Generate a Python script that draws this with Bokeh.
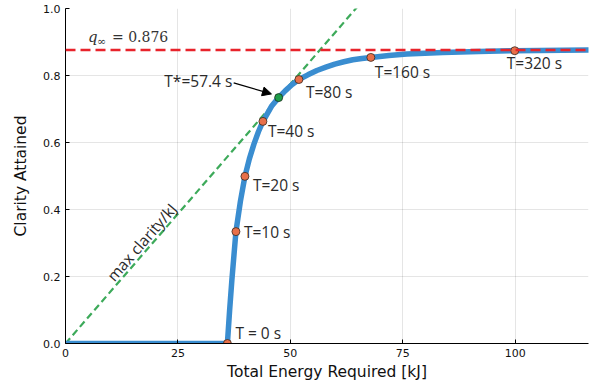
from bokeh.plotting import figure
from bokeh.models import ColumnDataSource, Range1d, FixedTicker, Arrow, NormalHead, Span, CustomJSTickFormatter
from bokeh.core.properties import value
from bokeh.embed import file_html
from bokeh.resources import INLINE

# ---- data ----
curve_energy = [0.0, 36.0, 36.5, 37.0, 37.9, 38.9, 39.9, 40.9, 41.9, 42.9, 43.9, 45.9, 47.4,
                48.9, 50.4, 51.9, 53.9, 55.9, 57.9, 59.9, 61.9, 63.9, 65.9, 67.9, 71.9,
                75.9, 83.9, 91.9, 99.9, 116.0, 120.0]
curve_clarity = [0.0, 0.0, 0.10, 0.19, 0.334, 0.425, 0.499, 0.552, 0.595, 0.632, 0.663, 0.710,
                 0.734, 0.755, 0.773, 0.788, 0.802, 0.815, 0.825, 0.834, 0.841, 0.847, 0.851,
                 0.854, 0.860, 0.864, 0.869, 0.872, 0.874, 0.876, 0.876]

marker_energy = [36.0, 37.9, 39.9, 43.9, 51.9, 67.9, 99.9]
marker_clarity = [0.0, 0.334, 0.499, 0.663, 0.788, 0.854, 0.874]
marker_labels = ["T = 0 s", "T=10 s", "T=20 s", "T=40 s", "T=80 s", "T=160 s", "T=320 s"]

star_energy = 47.4
star_clarity = 0.734
star_label = "T*=57.4 s"

q_inf = 0.876
q_label_value = "= 0.876"
tangent_slope = star_clarity / star_energy
tangent_x = [0.0, 70.0]

x_ticks = [0, 25, 50, 75, 100]
y_ticks = [0.0, 0.2, 0.4, 0.6, 0.8, 1.0]

# ---- styling (label offsets in screen px) ----
label_dx = [8, 8, 8, 5, 7, 4, -8]
label_dy = [-11, 0, 9, 10, 12, 15, 12]

BLUE = "#3A8DD0"
RED = "#E8232B"
GREEN = "#3DAA5A"
ORANGE = "#E8704A"
LABEL_FONT = "Open Sans"
LABEL_SIZE = "15.5px"

p = figure(width=595, height=389, output_backend="svg", toolbar_location=None,
           x_range=Range1d(0, 116.3), y_range=Range1d(0, 1.0),
           min_border_left=65, min_border_right=7, min_border_top=8, min_border_bottom=46)
p.outline_line_color = None
p.background_fill_color = "white"
p.border_fill_color = "white"

for ax in (p.xaxis[0], p.yaxis[0]):
    ax.major_tick_in = 4
    ax.major_tick_out = 0
    ax.minor_tick_line_color = None
    ax.major_label_text_font = "DejaVu Sans"
    ax.major_label_text_font_size = "11px"
    ax.major_label_text_color = "#111111"
    ax.axis_label_text_font = "DejaVu Sans"
    ax.axis_label_text_font_size = "15.5px"
    ax.axis_label_text_font_style = "normal"
    ax.axis_label_text_color = "#111111"
    ax.axis_line_color = "black"
    ax.major_tick_line_color = "black"

p.xaxis.ticker = FixedTicker(ticks=x_ticks)
p.yaxis.ticker = FixedTicker(ticks=y_ticks)
p.yaxis.formatter = CustomJSTickFormatter(code="return tick.toFixed(1);")
p.xaxis.axis_label = "Total Energy Required [kJ]"
p.yaxis.axis_label = "Clarity Attained"
p.xaxis.axis_label_standoff = 3
p.yaxis.axis_label_standoff = 10

p.xgrid.ticker = FixedTicker(ticks=x_ticks)
p.ygrid.ticker = FixedTicker(ticks=y_ticks)
p.grid.grid_line_color = "black"
p.grid.grid_line_alpha = 0.1

# tangent line
p.line(tangent_x, [tangent_slope * x for x in tangent_x], line_color=GREEN,
       line_width=2.2, line_dash="7 4")

# main curve
p.line(curve_energy, curve_clarity, line_color=BLUE, line_width=5.5, line_join="round")

# asymptote
p.add_layout(Span(location=q_inf, dimension="width", line_color=RED,
                  line_width=2.5, line_dash="10 5"))

# markers
p.scatter(marker_energy, marker_clarity, size=8, fill_color=ORANGE,
          line_color="#3a2a20", line_width=0.8)
p.scatter([star_energy], [star_clarity], size=8, fill_color="#1E9E4A",
          line_color="#1a2a1a", line_width=0.8)

lab_src = ColumnDataSource(dict(x=marker_energy, y=marker_clarity, t=marker_labels,
                                dx=label_dx, dy=label_dy))
p.text(x="x", y="y", text="t", x_offset="dx", y_offset="dy", source=lab_src,
       text_font=value(LABEL_FONT), text_font_size=LABEL_SIZE, text_color="#2a2a2a",
       text_align="left", text_baseline="middle")

# T* arrow and label
p.add_layout(Arrow(end=NormalHead(size=9, fill_color="black", line_color="black"),
                   x_start=star_energy - 10.0, y_start=star_clarity + 0.044,
                   x_end=star_energy - 1.6, y_end=star_clarity + 0.011,
                   line_color="black", line_width=1.3))
p.text(x=[star_energy - 10.3], y=[star_clarity + 0.044], text=[star_label],
       x_offset=0, y_offset=-2,
       text_font=value(LABEL_FONT), text_font_size=LABEL_SIZE, text_color="#2a2a2a",
       text_align="right", text_baseline="middle")

# max clarity/kJ label along the tangent (offset up-left of the line)
p.text(x=[17.8], y=[tangent_slope * 17.8], text=["max clarity/kJ"],
       x_offset=-4, y_offset=-9,
       angle=49.0, angle_units="deg",
       text_font=value(LABEL_FONT), text_font_size=LABEL_SIZE, text_color="#2a2a2a",
       text_align="center", text_baseline="middle")

# q_inf label
p.text(x=[5.0], y=[q_inf], text=["q"], x_offset=0, y_offset=-13,
       text_font=value("DejaVu Serif"), text_font_size="15px", text_font_style="italic",
       text_color="#333333", text_align="left", text_baseline="middle")
p.text(x=[5.0], y=[q_inf], text=["\u221e"], x_offset=9, y_offset=-9,
       text_font=value("DejaVu Serif"), text_font_size="11px",
       text_color="#333333", text_align="left", text_baseline="middle")
p.text(x=[5.0], y=[q_inf], text=[q_label_value], x_offset=24, y_offset=-13,
       text_font=value("DejaVu Serif"), text_font_size="14px",
       text_color="#333333", text_align="left", text_baseline="middle")

open("out.html", "w").write(file_html(p, INLINE))
